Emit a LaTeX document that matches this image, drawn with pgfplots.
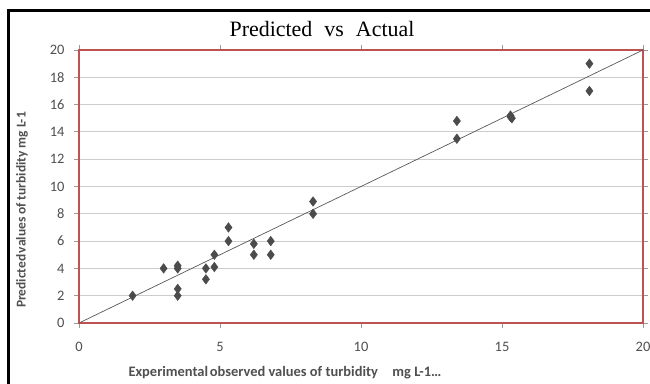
\documentclass[border=0pt]{standalone}
\usepackage{fontspec}
\setmainfont{Carlito}
\newfontfamily\titlefont{Liberation Serif}
\usepackage{pgfplots}
\pgfplotsset{compat=1.18}
\definecolor{bordred}{RGB}{190,82,80}
\definecolor{markgray}{RGB}{75,75,75}
\definecolor{labgray}{RGB}{80,80,80}
\begin{document}
\begin{tikzpicture}[x=1bp,y=1bp]
\useasboundingbox (0,0) rectangle (650,383);
\fill[white] (0,0) rectangle (650,383);
\draw[black, line width=3bp] (8,-2) -- (8,372) -- (652,372);
\node[font=\titlefont\fontsize{22}{24}\selectfont] at (322,354) {Predicted\hspace{0.55em}vs\hspace{0.55em}Actual};
\begin{axis}[at={(79bp,60bp)}, anchor=south west, scale only axis,
  width=564bp, height=273bp,
  xmin=0, xmax=20, ymin=0, ymax=20,
  xtick={0,5,...,20}, ytick={0,2,...,20},
  axis line style={draw=bordred, line width=2.5bp},
  ymajorgrids, grid style={draw=gray!40, line width=0.8bp},
  tick align=outside, major tick length=5bp,
  tick style={gray!80, line width=0.8bp},
  tick label style={font=\fontsize{14.5}{16}\selectfont, text=labgray},
  xticklabel style={yshift=-11bp},
  yticklabel style={xshift=-6bp},
  /pgf/number format/assume math mode=true,
  clip=false]
\addplot[gray!70!black, line width=0.7bp] coordinates {(0,0) (20,20)};
\addplot[only marks, mark=diamond*, mark size=4.8bp, mark options={fill=markgray, draw=markgray}] coordinates {
(1.9,2.0) (3.0,4.0) (3.5,4.2) (3.5,4.0) (3.5,2.5) (3.5,2.0)
(4.5,4.0) (4.5,3.2) (4.8,5.0) (4.8,4.1) (5.3,7.0) (5.3,6.0)
(6.2,5.8) (6.2,5.0) (6.8,6.0) (6.8,5.0) (8.3,8.9) (8.3,8.0)
(13.4,14.8) (13.4,13.5) (15.3,15.2) (15.35,15.0) (15.3,15.1)
(18.1,19.0) (18.1,17.0)};
\end{axis}
\node[rotate=90, font=\bfseries\fontsize{13.5}{15}\selectfont, text=labgray] at (22,173) {Predicted\hspace{0.12em}values of turbidity mg L-1};
\node[font=\bfseries\fontsize{14.5}{16}\selectfont, text=labgray] at (285,10) {Experimental\hspace{0.12em}observed values of turbidity\hspace{1em}mg L-1\dots};
\end{tikzpicture}
\end{document}
